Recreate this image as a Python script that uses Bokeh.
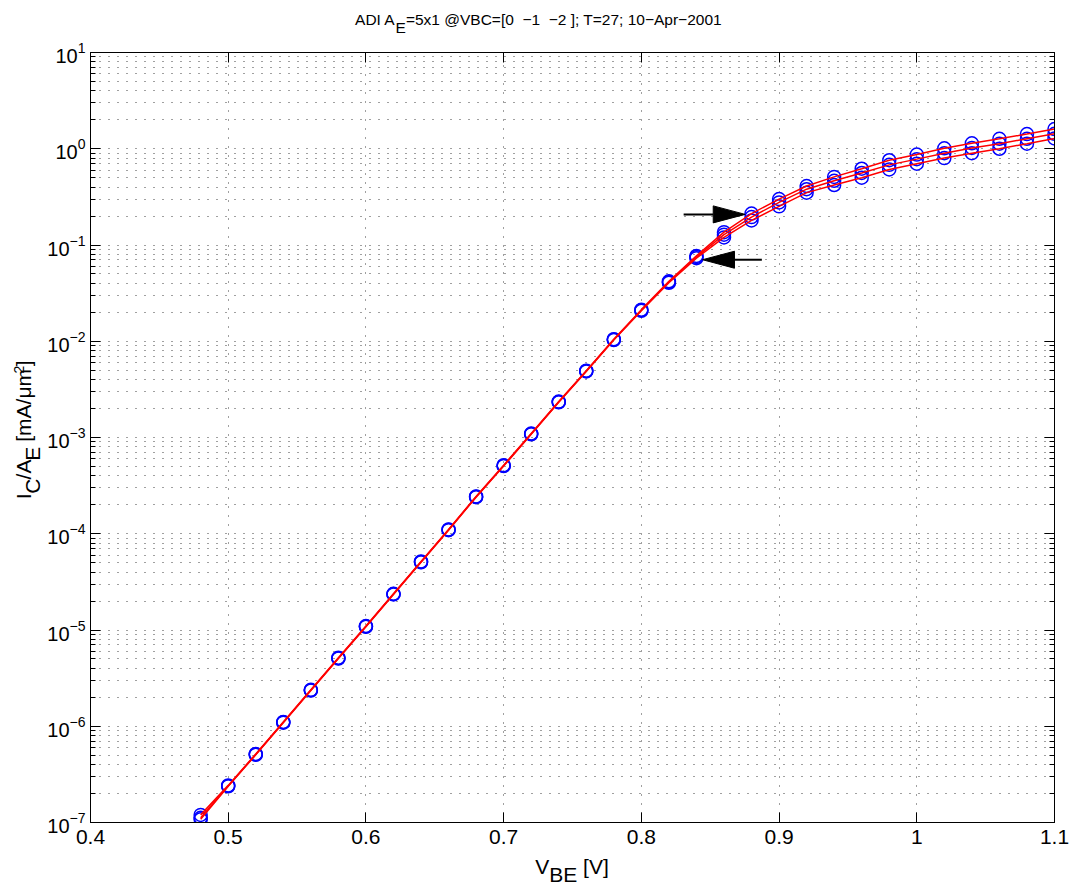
import math
from bokeh.plotting import figure
from bokeh.layouts import column, row
from bokeh.models import (Range1d, LogAxis, LinearAxis, FixedTicker, LogTickFormatter,
                          CustomJSTickFormatter, Label)
from bokeh.embed import file_html
from bokeh.resources import INLINE

# ---------------- data ----------------
vbe = [0.48, 0.50, 0.52, 0.54, 0.56, 0.58, 0.60, 0.62, 0.64, 0.66, 0.68, 0.70,
       0.72, 0.74, 0.76, 0.78, 0.80, 0.82, 0.84, 0.86, 0.88, 0.90, 0.92, 0.94,
       0.96, 0.98, 1.00, 1.02, 1.04, 1.06, 1.08, 1.10]

ic_vbc_0 = [1.08e-7, 2.38e-7, 5.05e-7, 1.09e-6, 2.35e-6, 5.05e-6, 1.08e-5, 2.34e-5,
            5.05e-5, 1.09e-4, 2.40e-4, 5.05e-4, 1.08e-3, 2.32e-3, 4.85e-3, 1.03e-2,
            2.07e-2, 4.05e-2, 0.073, 0.120, 0.180, 0.252, 0.350, 0.420,
            0.500, 0.610, 0.700, 0.800, 0.900, 1.000, 1.130, 1.280]

ic_vbc_m1 = [1.12e-7, 2.40e-7, 5.10e-7, 1.10e-6, 2.37e-6, 5.10e-6, 1.09e-5, 2.36e-5,
             5.10e-5, 1.10e-4, 2.42e-4, 5.10e-4, 1.09e-3, 2.34e-3, 4.90e-3, 1.04e-2,
             2.10e-2, 4.12e-2, 0.075, 0.128, 0.195, 0.277, 0.380, 0.465,
             0.560, 0.680, 0.780, 0.900, 1.020, 1.130, 1.270, 1.430]

ic_vbc_m2 = [1.20e-7, 2.43e-7, 5.15e-7, 1.11e-6, 2.39e-6, 5.15e-6, 1.10e-5, 2.38e-5,
             5.15e-5, 1.11e-4, 2.44e-4, 5.15e-4, 1.10e-3, 2.36e-3, 4.95e-3, 1.05e-2,
             2.13e-2, 4.20e-2, 0.077, 0.136, 0.212, 0.300, 0.410, 0.510,
             0.620, 0.760, 0.870, 1.010, 1.140, 1.270, 1.420, 1.600]

series = [ic_vbc_0, ic_vbc_m1, ic_vbc_m2]

x_ticks = [0.4, 0.5, 0.6, 0.7, 0.8, 0.9, 1.0, 1.1]
y_decades = [-7, -6, -5, -4, -3, -2, -1, 0, 1]

# arrow annotations (tail x, tip x, y)
arrow_tail_x = [0.8307, 0.8875]
arrow_tip_x = [0.8754, 0.8444]
arrow_y = [0.208, 0.0703]

NB = "\u00a0"
title_main = "ADI A"
title_sub = "E"
title_rest = "=5x1 @VBC=[0" + NB + NB + "\u22121" + NB + NB + "\u22122 ]; T=27; 10\u2212Apr\u22122001"

FONT = "Liberation Sans"

# ---------------- page geometry ----------------
W, H = 1070, 886
TITLE_H = 36          # strip above the plot
XLAB_H = 32           # strip below the plot
YLAB_W = 44           # strip left of the plot
MAIN_W, MAIN_H = W - YLAB_W, H - TITLE_H - XLAB_H
ML, MR, MT, MB = 45, 16, 16, 32
FW, FH = MAIN_W - ML - MR, MAIN_H - MT - MB
x0, x1 = 0.4, 1.1
y0, y1 = 1e-7, 10.0

# ---------------- main figure ----------------
p = figure(width=MAIN_W, height=MAIN_H, x_range=Range1d(x0, x1), y_range=Range1d(y0, y1),
           y_axis_type="log", output_backend="svg", toolbar_location=None, title=None,
           min_border_left=ML, min_border_right=MR, min_border_top=MT, min_border_bottom=MB,
           background_fill_color="white", border_fill_color="white")
p.outline_line_color = "black"
p.outline_line_width = 1

y_major = [10.0 ** k for k in y_decades]
y_minor = [m * 10.0 ** k for k in y_decades[:-1] for m in range(2, 10)]


def style_axis(ax):
    ax.axis_line_color = "black"
    ax.axis_line_width = 1
    ax.major_tick_in = 10
    ax.major_tick_out = 0
    ax.minor_tick_in = 5
    ax.minor_tick_out = 0
    ax.major_tick_line_color = "black"
    ax.minor_tick_line_color = "black"
    ax.major_label_text_font = FONT
    ax.major_label_text_font_size = "21px"
    ax.major_label_text_color = "black"


xax = p.xaxis[0]
xax.ticker = FixedTicker(ticks=x_ticks)
xax.formatter = CustomJSTickFormatter(code="return String(Math.round(tick*10)/10);")
style_axis(xax)
xax.major_label_standoff = 7

yax = p.yaxis[0]
yax.ticker = FixedTicker(ticks=y_major, minor_ticks=y_minor)
yax.formatter = LogTickFormatter()
style_axis(yax)
yax.major_label_text_font_size = "20px"
yax.major_label_standoff = 5

top_ax = LinearAxis(ticker=FixedTicker(ticks=x_ticks),
                    formatter=CustomJSTickFormatter(code="return '';"))
style_axis(top_ax)
top_ax.major_label_standoff = 0
top_ax.major_label_text_font_size = "0px"
p.add_layout(top_ax, "above")

right_ax = LogAxis(ticker=FixedTicker(ticks=y_major, minor_ticks=y_minor),
                   formatter=CustomJSTickFormatter(code="return '';"))
style_axis(right_ax)
right_ax.major_label_standoff = 0
right_ax.major_label_text_font_size = "0px"
p.add_layout(right_ax, "right")

# grids (MATLAB-like dotted)
for g in (p.xgrid, p.ygrid):
    g.grid_line_color = "black"
    g.grid_line_alpha = 0.75
    g.grid_line_dash = "1 8"
p.ygrid.minor_grid_line_color = "black"
p.ygrid.minor_grid_line_alpha = 0.75
p.ygrid.minor_grid_line_dash = "1 8"

# data marks
for s in series:
    p.scatter(vbe, s, marker="circle", size=13, fill_color=None,
              line_color="#0000ff", line_width=1.5)
for s in series:
    p.line(vbe, s, line_color="#ff0000", line_width=1.5)

# arrows
px_per_v = FW / (x1 - x0)
px_per_dec = FH / (math.log10(y1) - math.log10(y0))
head_len = 32 / px_per_v
head_fac = 10 ** (8.5 / px_per_dec)
for tx, hx, ay in zip(arrow_tail_x, arrow_tip_x, arrow_y):
    d = 1 if hx > tx else -1
    bx = hx - d * head_len
    p.line([tx, bx], [ay, ay], line_color="black", line_width=2)
    p.patch([hx, bx, bx], [ay, ay * head_fac, ay / head_fac],
            fill_color="black", line_color="black", line_width=1)

# ---------------- text strips (pixel coordinates, y downwards) ----------------
CW = {' ': 278, NB: 278, 'A': 667, 'B': 667, 'C': 722, 'D': 722, 'E': 667, 'I': 278,
      'T': 611, 'V': 667, 'a': 556, 'm': 833, 'p': 556, 'r': 333, 'x': 500,
      '.': 278, '/': 278, '[': 278, ']': 278, ';': 278, '=': 584, '@': 1015,
      '\u2212': 584, '\u03bc': 576}
DESC = 0.212   # font descent (em), used to place texts by their bottom edge


def tw(s, size):
    return sum(CW.get(c, 556) for c in s) * size / 1000.0


def strip(w, h):
    f = figure(width=w, height=h, x_range=Range1d(0, w), y_range=Range1d(h, 0),
               x_axis_location=None, y_axis_location=None, toolbar_location=None,
               title=None, output_backend="svg",
               min_border=0, min_border_left=0, min_border_right=0,
               min_border_top=0, min_border_bottom=0,
               background_fill_color="white", border_fill_color="white")
    f.outline_line_color = None
    f.xgrid.visible = False
    f.ygrid.visible = False
    return f


def run(f, pieces, cx, base, vertical=False):
    """pieces: (text, size, baseline shift); base is the main baseline in strip px."""
    total = sum(tw(t, sz) for t, sz, sh in pieces)
    cur = -total / 2
    for t, sz, sh in pieces:
        b = base + sh + DESC * sz
        if vertical:
            lab = Label(x=b, y=cx - cur, angle=math.pi / 2, text=t)
        else:
            lab = Label(x=cx + cur, y=b, text=t)
        lab.text_font = FONT
        lab.text_font_size = f"{sz}px"
        lab.text_color = "black"
        lab.text_align = "left"
        lab.text_baseline = "bottom"
        f.add_layout(lab)
        cur += tw(t, sz)


frame_cx = YLAB_W + ML + FW / 2       # canvas x of frame centre
frame_cy = MT + FH / 2                # y of frame centre inside the middle row

title_fig = strip(W, TITLE_H)
run(title_fig, [(title_main, 15.5, 0), (title_sub, 15.5, 8.5), (title_rest, 15.5, 0)], 538, 24)

xlab_fig = strip(W, XLAB_H)
run(xlab_fig, [("V", 21, 0), ("BE", 21, 8), (NB + "[V]", 21, 0)], frame_cx, 19)

ylab_fig = strip(YLAB_W, MAIN_H)
run(ylab_fig, [("I", 21, 0), ("C", 21, 9), ("/A", 21, 0), ("E", 21, 9),
               (NB + "[mA/\u03bcm", 21, 0), ("2", 14, -9), ("]", 21, 0)],
    frame_cy, 30, vertical=True)

layout = column(title_fig, row(ylab_fig, p), xlab_fig)

open("out.html", "w").write(file_html(layout, INLINE))
